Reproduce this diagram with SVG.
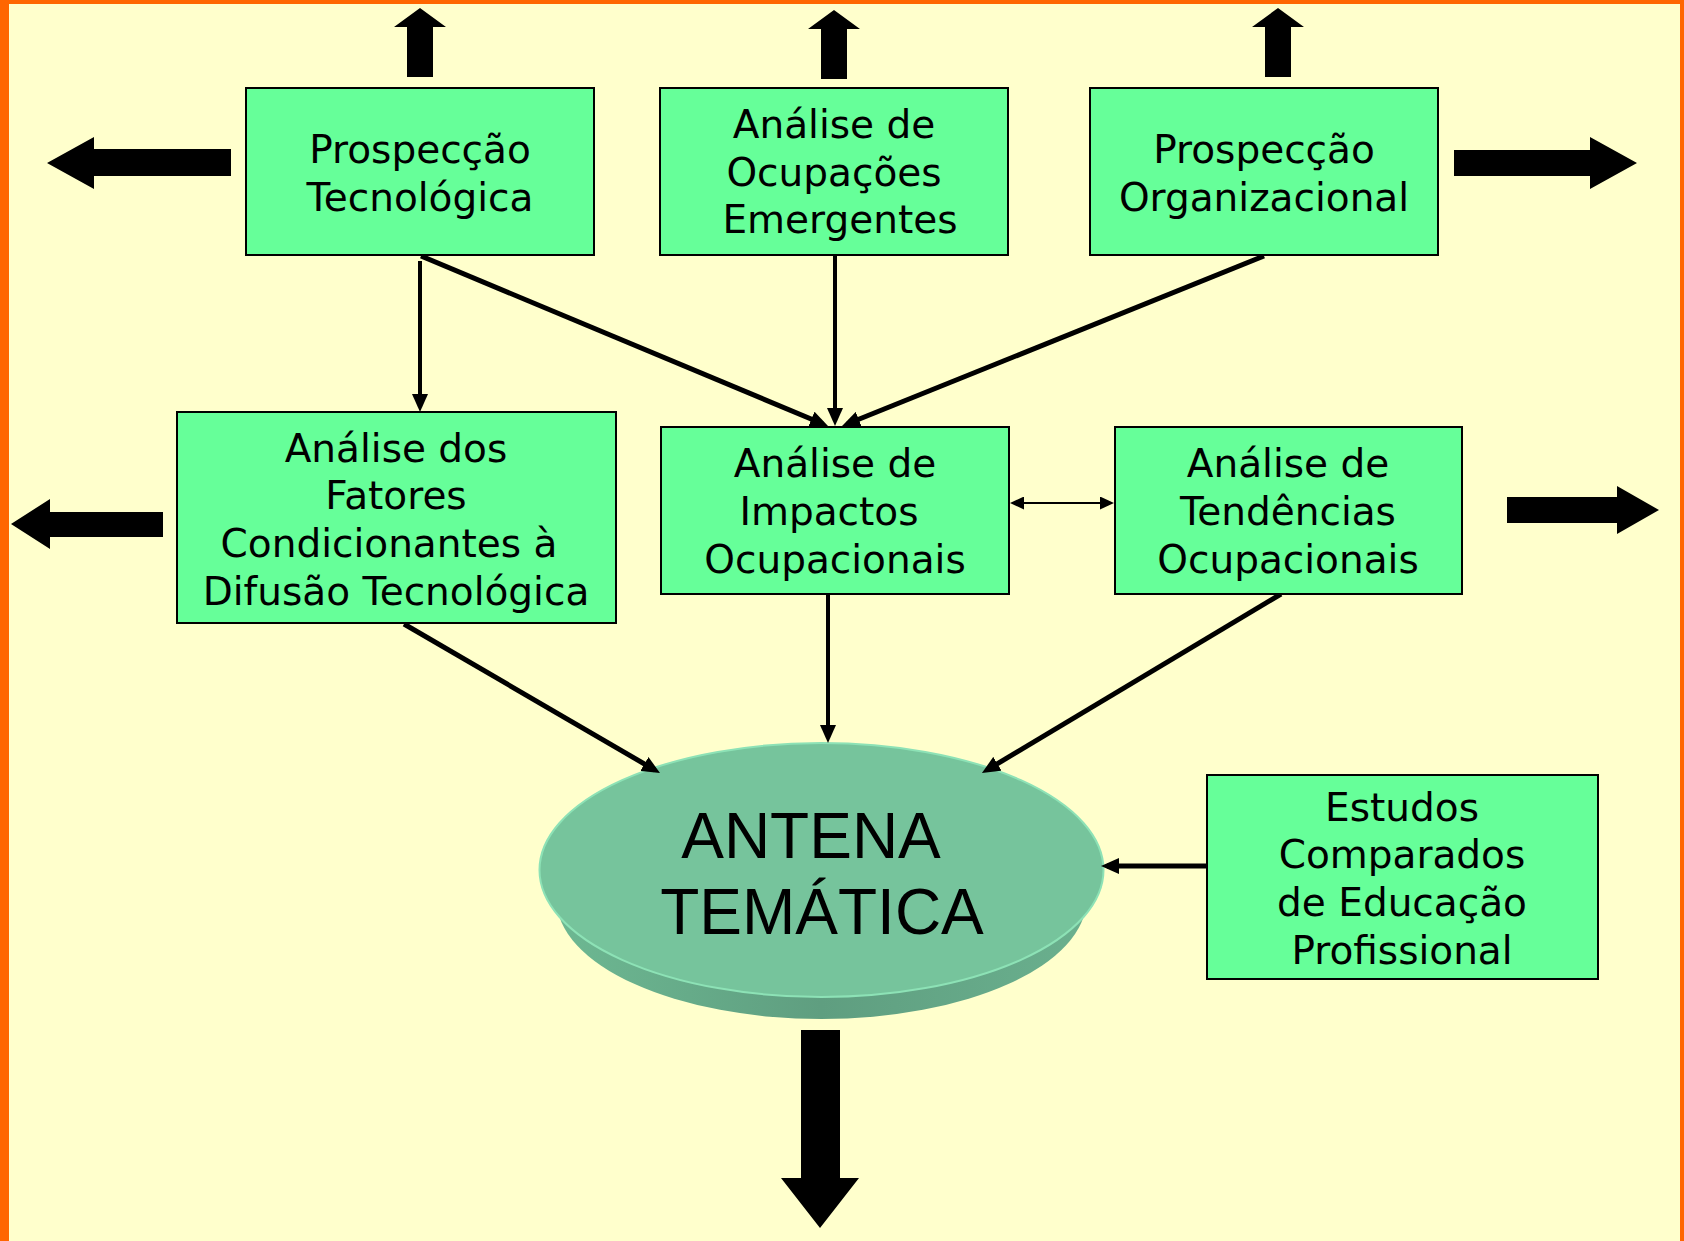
<svg xmlns="http://www.w3.org/2000/svg" width="1684" height="1241" viewBox="0 0 1684 1241">
  <style>
    .box { fill: #66FF99; stroke: #000000; stroke-width: 2; }
    .lbl { font-family: "DejaVu Sans", Verdana, sans-serif; font-size: 39px; fill: #000000; text-anchor: middle; }
    .big { font-family: "Liberation Sans", Arial, sans-serif; font-size: 64px; fill: #000000; text-anchor: middle; }
    .conn { stroke: #000000; fill: none; stroke-linecap: butt; }
    .block { fill: #000000; }
  </style>
  <defs>
    <marker id="ah" viewBox="0 0 18 16" refX="12" refY="8" markerWidth="18" markerHeight="16" markerUnits="userSpaceOnUse" orient="auto">
      <path d="M0,0 L18,8 L0,16 z" fill="#000000"/>
    </marker>
    <marker id="ahs" viewBox="0 0 14 13" refX="12" refY="6.5" markerWidth="14" markerHeight="13" markerUnits="userSpaceOnUse" orient="auto-start-reverse">
      <path d="M0,0 L14,6.5 L0,13 z" fill="#000000"/>
    </marker>
    <linearGradient id="side" x1="0" y1="0" x2="1" y2="0">
      <stop offset="0" stop-color="#6DB892"/>
      <stop offset="0.5" stop-color="#5F9E80"/>
      <stop offset="1" stop-color="#6AB08E"/>
    </linearGradient>
  </defs>

  <!-- background and frame -->
  <rect x="0" y="0" width="1684" height="1241" fill="#FFFFCC"/>
  <rect x="0" y="0" width="9" height="1241" fill="#FF6600"/>
  <rect x="0" y="0" width="1684" height="4" fill="#FF6600"/>
  <rect x="1680" y="0" width="4" height="1241" fill="#FF6600"/>

  <!-- block arrows -->
  <g id="block-arrows">
    <polygon class="block" points="47,163 94,137 94,149 231,149 231,176 94,176 94,189"/>
    <polygon class="block" points="420,8 446,27 433,27 433,77 407,77 407,27 394,27"/>
    <polygon class="block" points="834,10 860,29 847,29 847,79 821,79 821,29 808,29"/>
    <polygon class="block" points="1278,8 1304,27 1291,27 1291,77 1265,77 1265,27 1252,27"/>
    <polygon class="block" points="1637,163 1590,137 1590,150 1454,150 1454,176 1590,176 1590,189"/>
    <polygon class="block" points="11,524 50,499 50,512 163,512 163,537 50,537 50,549"/>
    <polygon class="block" points="1659,510 1617,486 1617,497 1507,497 1507,523 1617,523 1617,534"/>
    <polygon class="block" points="820,1228 859,1178 840,1178 840,1030 801,1030 801,1178 781,1178"/>
  </g>

  <!-- central node -->
  <g id="antena">
    <ellipse cx="821.5" cy="899" rx="265" ry="120" fill="url(#side)"/>
    <ellipse cx="821.5" cy="870" rx="282" ry="127" fill="#76C49C" stroke="#8DE2B6" stroke-width="2"/>
    <text class="big" x="811" y="858">ANTENA</text>
    <text class="big" x="822" y="934">TEMÁTICA</text>
  </g>

  <!-- connectors -->
  <g id="connectors">
    <line class="conn" x1="420" y1="261" x2="420" y2="406" stroke-width="4" marker-end="url(#ah)"/>
    <line class="conn" x1="421" y1="256" x2="822.5" y2="423.7" stroke-width="5" marker-end="url(#ah)"/>
    <line class="conn" x1="835" y1="255" x2="835" y2="420" stroke-width="4" marker-end="url(#ah)"/>
    <line class="conn" x1="1264" y1="256" x2="847.6" y2="423.8" stroke-width="5" marker-end="url(#ah)"/>
    <line class="conn" x1="404" y1="624" x2="654.8" y2="770" stroke-width="5" marker-end="url(#ah)"/>
    <line class="conn" x1="828" y1="594" x2="828" y2="737" stroke-width="4" marker-end="url(#ah)"/>
    <line class="conn" x1="1281" y1="594" x2="987.1" y2="769.9" stroke-width="5" marker-end="url(#ah)"/>
    <line class="conn" x1="1207" y1="866" x2="1107" y2="866" stroke-width="5" marker-end="url(#ah)"/>
    <line class="conn" x1="1012" y1="503" x2="1112" y2="503" stroke-width="2" marker-start="url(#ahs)" marker-end="url(#ahs)"/>
  </g>

  <!-- nodes -->
  <g id="prospeccao-tecnologica">
    <rect class="box" x="246" y="88" width="348" height="167"/>
    <text class="lbl" x="420" y="163">Prospecção</text>
    <text class="lbl" x="420" y="211">Tecnológica</text>
  </g>
  <g id="ocupacoes-emergentes">
    <rect class="box" x="660" y="88" width="348" height="167"/>
    <text class="lbl" x="834" y="138">Análise de</text>
    <text class="lbl" x="834" y="186">Ocupações</text>
    <text class="lbl" x="840" y="233">Emergentes</text>
  </g>
  <g id="prospeccao-organizacional">
    <rect class="box" x="1090" y="88" width="348" height="167"/>
    <text class="lbl" x="1264" y="163">Prospecção</text>
    <text class="lbl" x="1264" y="211">Organizacional</text>
  </g>
  <g id="fatores-condicionantes">
    <rect class="box" x="177" y="412" width="439" height="211"/>
    <text class="lbl" x="396" y="462">Análise dos</text>
    <text class="lbl" x="396" y="509">Fatores</text>
    <text class="lbl" x="389" y="557">Condicionantes à</text>
    <text class="lbl" x="396" y="605">Difusão Tecnológica</text>
  </g>
  <g id="impactos-ocupacionais">
    <rect class="box" x="661" y="427" width="348" height="167"/>
    <text class="lbl" x="835" y="477">Análise de</text>
    <text class="lbl" x="829" y="525">Impactos</text>
    <text class="lbl" x="835" y="573">Ocupacionais</text>
  </g>
  <g id="tendencias-ocupacionais">
    <rect class="box" x="1115" y="427" width="347" height="167"/>
    <text class="lbl" x="1288" y="477">Análise de</text>
    <text class="lbl" x="1288" y="525">Tendências</text>
    <text class="lbl" x="1288" y="573">Ocupacionais</text>
  </g>
  <g id="estudos-comparados">
    <rect class="box" x="1207" y="775" width="391" height="204"/>
    <text class="lbl" x="1402" y="821">Estudos</text>
    <text class="lbl" x="1402" y="868">Comparados</text>
    <text class="lbl" x="1402" y="916">de Educação</text>
    <text class="lbl" x="1402" y="964">Profissional</text>
  </g>
</svg>
